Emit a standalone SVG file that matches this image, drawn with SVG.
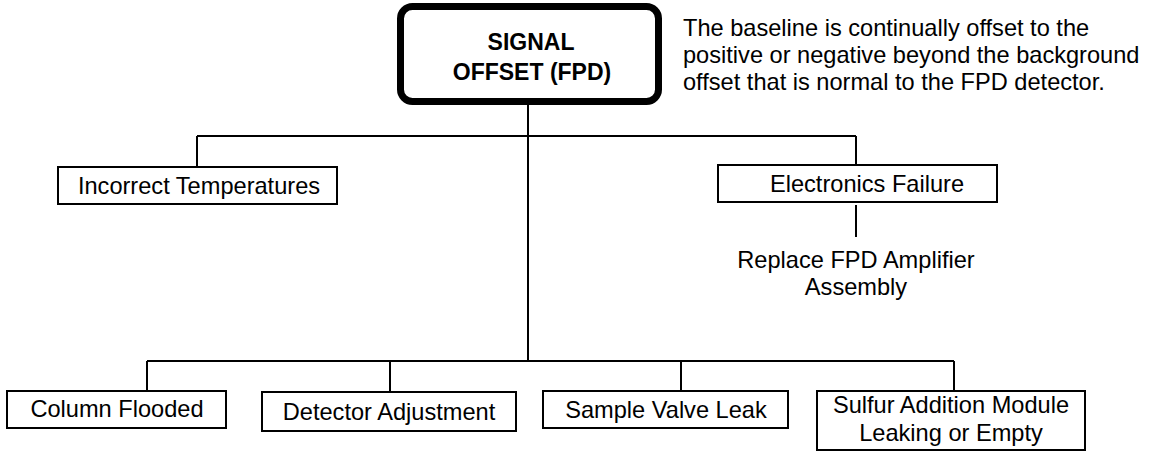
<svg xmlns="http://www.w3.org/2000/svg" width="1150" height="452" viewBox="0 0 1150 452">
<style>
text{font-family:"Liberation Sans",Arial,sans-serif;font-size:23.6px;fill:#000}
.c{text-anchor:middle}
.b{font-weight:bold;font-size:23px}
.box{fill:#fff;stroke:#000;stroke-width:2}
.ln{stroke:#000;stroke-width:2;fill:none}
</style>
<rect width="1150" height="452" fill="#fff"/>
<g id="connectors">
<line class="ln" x1="528" y1="105" x2="528" y2="361"/>
<line class="ln" x1="197" y1="136" x2="856" y2="136"/>
<line class="ln" x1="197" y1="136" x2="197" y2="167"/>
<line class="ln" x1="856" y1="136" x2="856" y2="165"/>
<line class="ln" x1="856" y1="205" x2="856" y2="237"/>
<line class="ln" x1="147" y1="361" x2="954" y2="361"/>
<line class="ln" x1="147" y1="361" x2="147" y2="391"/>
<line class="ln" x1="390" y1="361" x2="390" y2="392"/>
<line class="ln" x1="681" y1="361" x2="681" y2="391"/>
<line class="ln" x1="954" y1="361" x2="954" y2="391"/>
</g>
<g id="root">
<rect x="400.5" y="6.5" width="258" height="95" rx="12" fill="#fff" stroke="#000" stroke-width="7"/>
<text class="c b" x="531" y="50">SIGNAL</text>
<text class="c b" x="532" y="80">OFFSET (FPD)</text>
</g>
<g id="description">
<text x="683" y="36">The baseline is continually offset to the</text>
<text x="683" y="63">positive or negative beyond the background</text>
<text x="683" y="90">offset that is normal to the FPD detector.</text>
</g>
<g id="incorrect-temperatures">
<rect class="box" x="58" y="167" width="279" height="37"/>
<text class="c" x="199" y="194">Incorrect Temperatures</text>
</g>
<g id="electronics-failure">
<rect class="box" x="718" y="165" width="279" height="37"/>
<text class="c" x="867" y="192">Electronics Failure</text>
</g>
<g id="replace-amplifier">
<text class="c" x="856" y="268">Replace FPD Amplifier</text>
<text class="c" x="856" y="295">Assembly</text>
</g>
<g id="column-flooded">
<rect class="box" x="7" y="391" width="219" height="37"/>
<text class="c" x="117" y="417">Column Flooded</text>
</g>
<g id="detector-adjustment">
<rect class="box" x="262" y="392" width="254" height="39"/>
<text class="c" x="389" y="420">Detector Adjustment</text>
</g>
<g id="sample-valve-leak">
<rect class="box" x="543" y="391" width="245" height="37"/>
<text class="c" x="666" y="418">Sample Valve Leak</text>
</g>
<g id="sulfur-addition">
<rect class="box" x="817" y="391" width="268" height="59"/>
<text class="c" x="951" y="413">Sulfur Addition Module</text>
<text class="c" x="951" y="441">Leaking or Empty</text>
</g>
</svg>
